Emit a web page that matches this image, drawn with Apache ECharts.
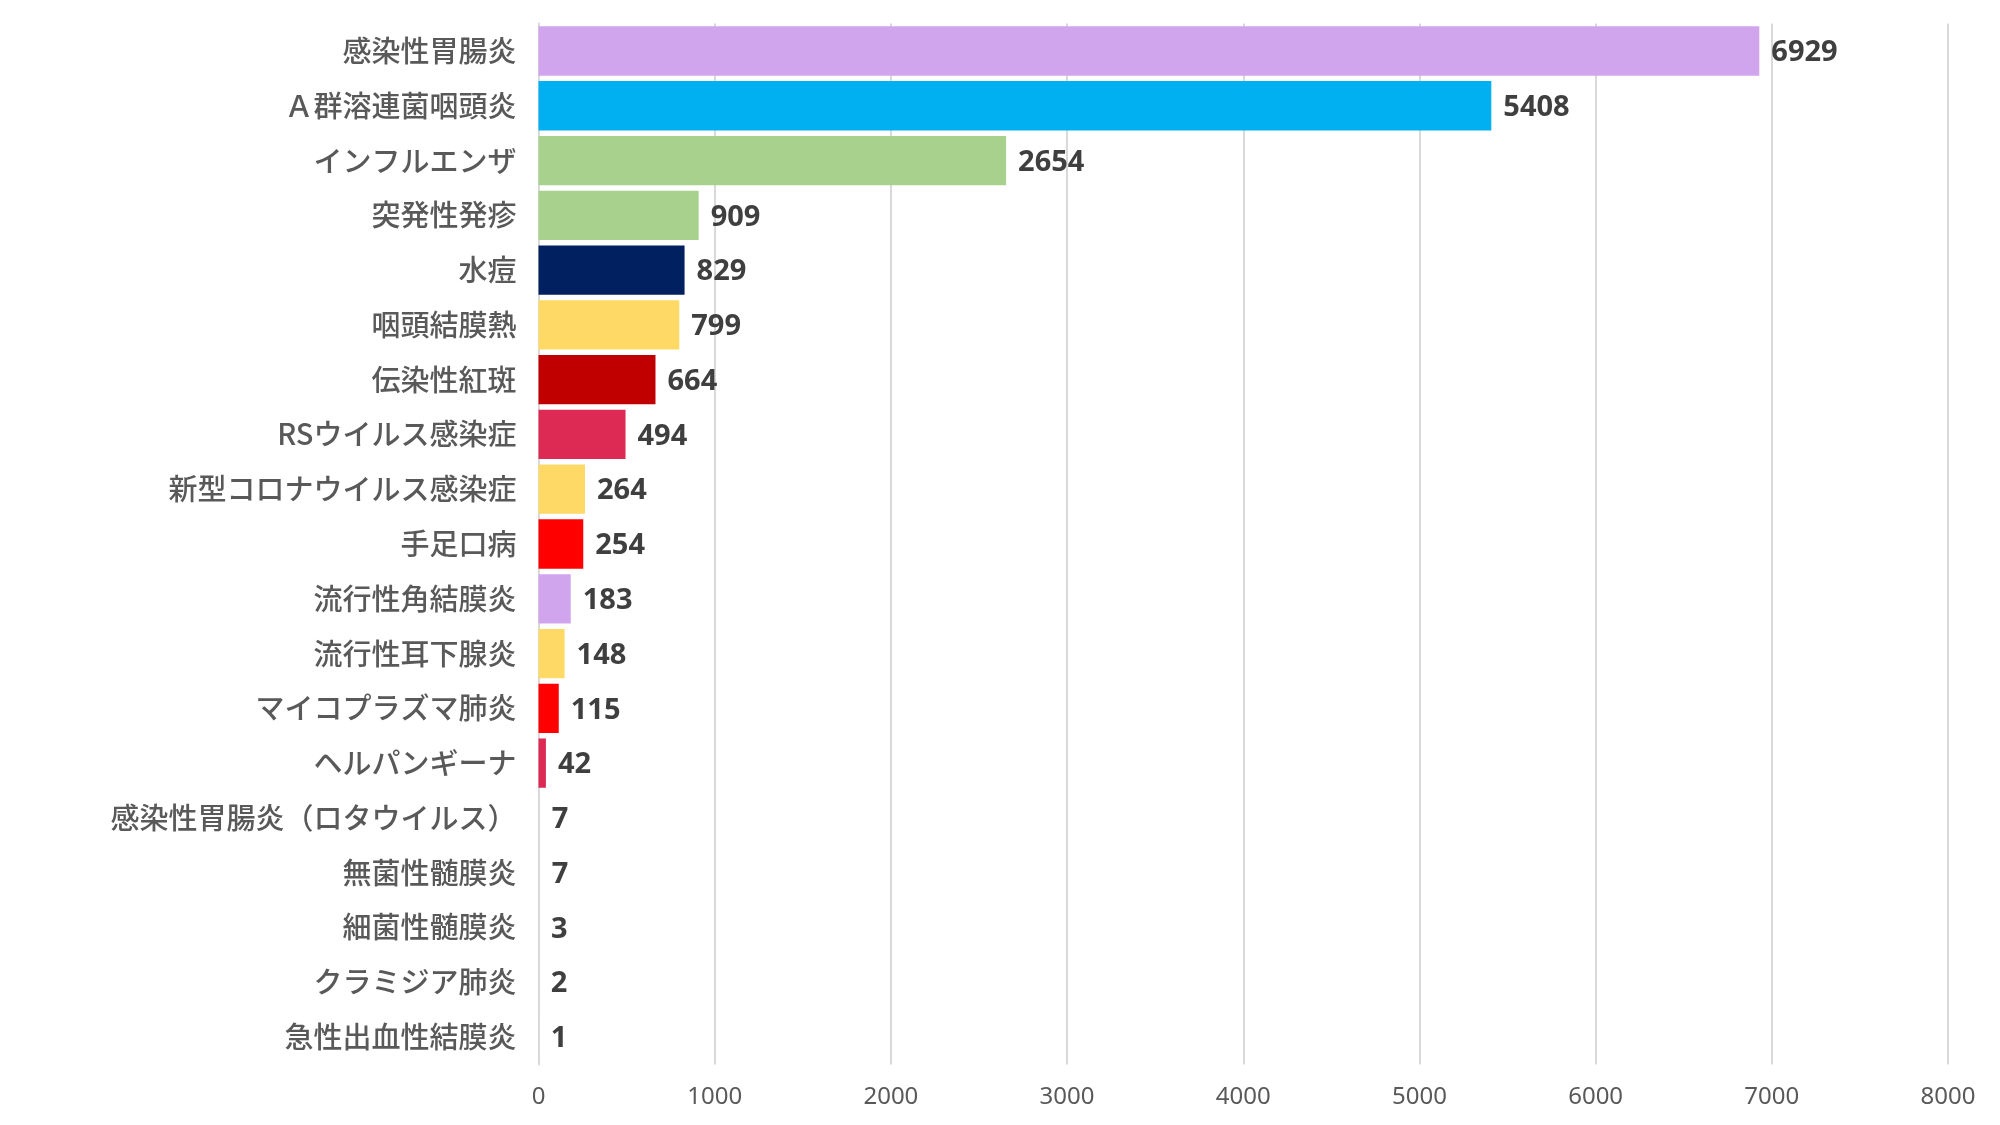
<!DOCTYPE html>
<html>
<head>
<meta charset="utf-8">
<script src="https://cdn.jsdelivr.net/npm/echarts@6/dist/echarts.min.js"></script>
<style>
html,body{margin:0;padding:0;background:#fff;}
#chart{width:2000px;height:1125px;}
</style>
</head>
<body>
<div id="chart"></div>
<script>
const categories = [
  "感染性胃腸炎","Ａ群溶連菌咽頭炎","インフルエンザ","突発性発疹","水痘","咽頭結膜熱","伝染性紅斑",
  "RSウイルス感染症","新型コロナウイルス感染症","手足口病","流行性角結膜炎","流行性耳下腺炎",
  "マイコプラズマ肺炎","ヘルパンギーナ","感染性胃腸炎（ロタウイルス）","無菌性髄膜炎","細菌性髄膜炎",
  "クラミジア肺炎","急性出血性結膜炎"
];
const values = [6929,5408,2654,909,829,799,664,494,264,254,183,148,115,42,7,7,3,2,1];
const barColors = [
  "#D1A5EE","#00B0F0","#A9D18E","#A9D18E","#002060","#FFD966","#C00000",
  "#DC2A55","#FFD966","#FF0000","#D1A5EE","#FFD966","#FF0000","#DC2A55",
  "#D9D9D9","#D9D9D9","#D9D9D9","#D9D9D9","#D9D9D9"
];
const xTicks = [0,1000,2000,3000,4000,5000,6000,7000,8000];

const chart = echarts.init(document.getElementById('chart'), null, {renderer:'canvas'});
chart.setOption({
  animation:false,
  backgroundColor:'#ffffff',
  grid:{left:538.5, right:52, top:23.6, bottom:60.6, containLabel:false},
  xAxis:{
    type:'value', min:xTicks[0], max:xTicks[xTicks.length-1], interval:xTicks[1]-xTicks[0],
    axisLine:{show:false}, axisTick:{show:false},
    splitLine:{show:true, lineStyle:{color:'#D9D9D9', width:2}},
    axisLabel:{color:'#595959', fontSize:24, fontFamily:'Noto Sans', margin:21,
               formatter:function(v){return String(v);}}
  },
  yAxis:{
    type:'category', data:categories, inverse:true,
    axisLine:{show:true, lineStyle:{color:'#D9D9D9', width:2}},
    axisTick:{show:false},
    axisLabel:{color:'#595959', fontSize:29, fontWeight:500, fontFamily:'Noto Sans CJK JP', margin:22}
  },
  series:[{
    type:'bar',
    data:values.map((v,i)=>({value:v, itemStyle:{color:barColors[i]}})),
    barCategoryGap:'10%',
    label:{show:true, position:'right', distance:12, offset:[0,2], color:'#3F3F3F', fontSize:29,
           fontWeight:'bold', fontFamily:'Noto Sans'}
  }]
});
</script>
</body>
</html>
